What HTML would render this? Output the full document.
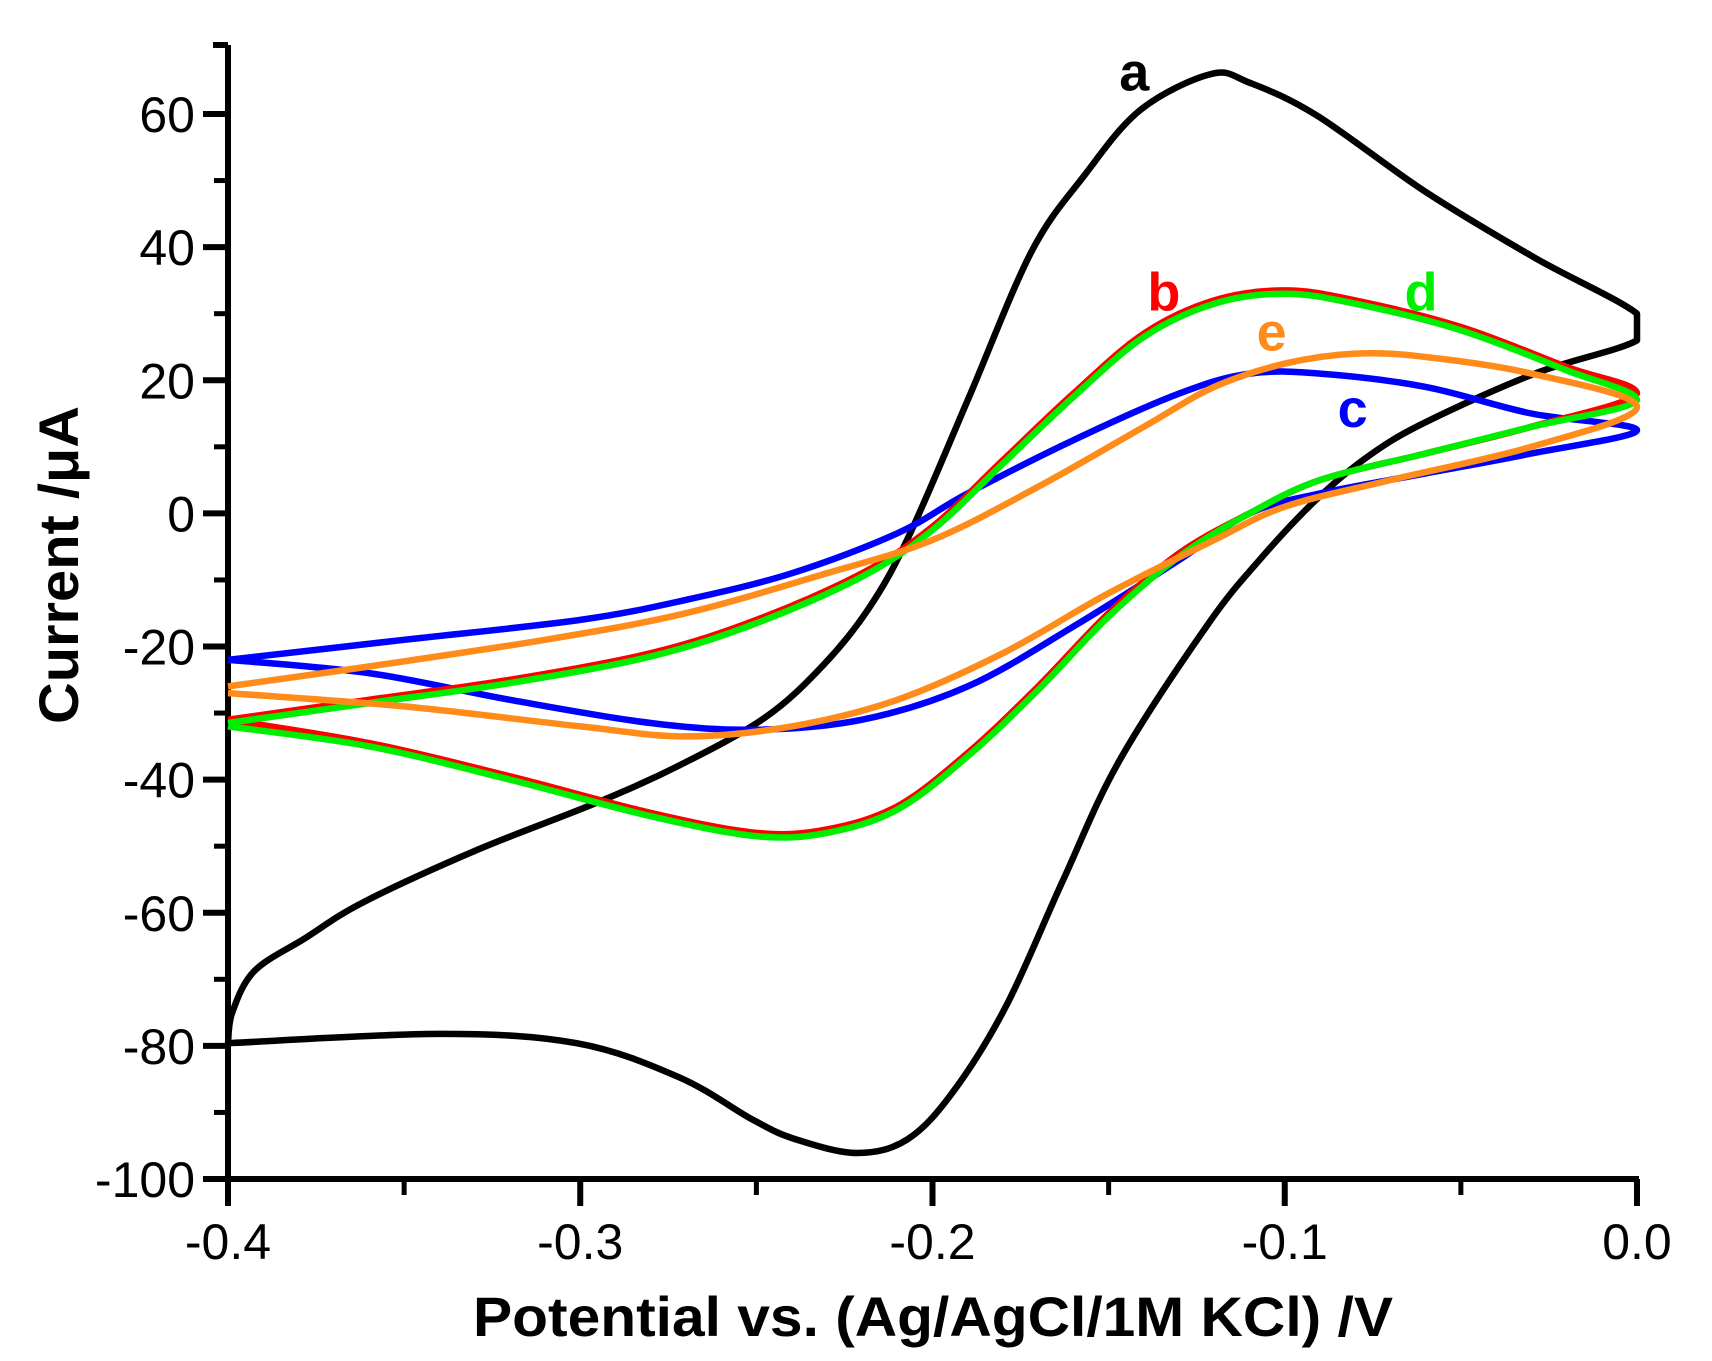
<!DOCTYPE html>
<html><head><meta charset="utf-8"><style>
html,body{margin:0;padding:0;background:#fff}
svg{display:block}
text{font-family:"Liberation Sans",Arial,sans-serif}
</style></head><body>
<svg id="chart" width="1712" height="1361" viewBox="0 0 1712 1361" xmlns="http://www.w3.org/2000/svg">
<g id="axes"></g>
<g id="series"></g>
<g id="labels"></g>
<text x="933" y="1336" font-size="56" font-weight="bold" text-anchor="middle" textLength="920" lengthAdjust="spacingAndGlyphs">Potential vs. (Ag/AgCl/1M KCl) /V</text>
<text transform="translate(78,565) rotate(-90)" font-size="56" font-weight="bold" text-anchor="middle" textLength="318" lengthAdjust="spacingAndGlyphs">Current /μA</text>
</svg>
<script>
const xTicks=[-0.4,-0.3,-0.2,-0.1,0.0];
const xTickLabels=["-0.4","-0.3","-0.2","-0.1","0.0"];
const yTicks=[-100,-80,-60,-40,-20,0,20,40,60];
const yTickLabels=["-100","-80","-60","-40","-20","0","20","40","60"];
const seriesNames=["a","b","c","d","e"];
const seriesColors=["#000000","#ff0000","#0000ff","#00ee00","#ff8c1a"];
const aX=[-0.4,-0.34,-0.301,-0.272,-0.251,-0.239,-0.2214,-0.207,-0.194,-0.179,-0.163,-0.147,-0.122,-0.107,-0.091,-0.076,-0.06,-0.029,0.0,0.0,-0.029,-0.06,-0.091,-0.11,-0.121,-0.141,-0.157,-0.172,-0.19,-0.2067,-0.218,-0.231,-0.2476,-0.272,-0.2964,-0.329,-0.3615,-0.378,-0.3926,-0.399,-0.4];
const aY=[-79.6,-78.2,-79.6,-84.7,-91.1,-94,-96.1,-94,-86.8,-73.9,-55.2,-37.2,-16.8,-6.9,2.1,8.7,13.7,21,26,30,38.4,48.3,59.8,64.7,66,60.6,50.7,39.2,17,-3.4,-14.2,-22.8,-30.7,-37.9,-43.7,-50.5,-58.4,-63.8,-68.8,-75.3,-79.6];
const bX=[-0.4,-0.36,-0.32,-0.28,-0.25,-0.23,-0.21,-0.19,-0.17,-0.15,-0.13,-0.11,-0.09,-0.06,-0.03,0.0,-0.02,-0.05,-0.08,-0.1,-0.12,-0.14,-0.16,-0.18,-0.2,-0.22,-0.25,-0.28,-0.32,-0.36,-0.4];
const bY=[-31,-34.5,-39.5,-45,-48,-47.5,-44,-36,-26,-15,-6,0,5,9,13,18,22,28,32,33.5,32,27,18,8,-2,-9,-16,-21,-25,-28,-31];
const cX=[-0.4,-0.36,-0.32,-0.28,-0.25,-0.22,-0.19,-0.16,-0.13,-0.11,-0.09,-0.06,-0.03,0.0,-0.03,-0.06,-0.09,-0.11,-0.13,-0.16,-0.19,-0.21,-0.24,-0.27,-0.3,-0.35,-0.4];
const cY=[-22,-24,-28,-31.5,-32.5,-31,-26,-17,-7,0,3,6,9,12.5,15,19,21,21,18,11,3,-3,-9,-13,-16,-19,-22];
const dX=[-0.4,-0.36,-0.32,-0.28,-0.25,-0.23,-0.21,-0.19,-0.17,-0.15,-0.13,-0.11,-0.09,-0.06,-0.03,0.0,-0.02,-0.05,-0.08,-0.1,-0.12,-0.14,-0.16,-0.18,-0.2,-0.22,-0.25,-0.28,-0.32,-0.36,-0.4];
const dY=[-32,-35,-40,-45.5,-48.5,-48,-44.5,-36.5,-26.5,-15.5,-6.5,0,5,9,13,17,21.5,27.5,31.5,33,31.5,26.5,17.5,7.5,-2.5,-9.5,-16.5,-21.5,-25.5,-28.5,-31.5];
const eX=[-0.4,-0.35,-0.3,-0.27,-0.24,-0.21,-0.18,-0.15,-0.12,-0.1,-0.07,-0.03,0.0,-0.03,-0.06,-0.08,-0.1,-0.12,-0.14,-0.17,-0.2,-0.23,-0.27,-0.31,-0.36,-0.4];
const eY=[-27,-29,-32,-33.5,-32,-28,-21,-12,-4,1,5,10,16,21,23.5,24,22.5,19,13,4,-4,-9,-15,-19,-23,-26];
const labelX=[-0.147,-0.139,-0.085,-0.066,-0.108];
const labelY=[63.5,30.5,13,30.5,24.5];

const X0=228,X1=1637,Y0=114,Y1=1179;
function sx(v){return X0+(v+0.4)/0.4*(X1-X0);}
function sy(v){return Y0+(60-v)/160*(Y1-Y0);}
const NS="http://www.w3.org/2000/svg";
function mk(tag,attrs,parent){const e=document.createElementNS(NS,tag);for(const k in attrs)e.setAttribute(k,attrs[k]);parent.appendChild(e);return e;}
const axes=document.getElementById('axes');
let el=mk('line',{x1:X0,y1:45,x2:X0,y2:Y1,stroke:'#000','stroke-width':6},axes);


el=mk('line',{x1:X0-2,y1:Y1,x2:X1+2,y2:Y1,stroke:'#000','stroke-width':6},axes);


el=mk('line',{x1:X0-15,y1:45,x2:X0,y2:45,stroke:'#000','stroke-width':6},axes);


for(let v=-90;v<=50;v+=20){
 el=mk('line',{x1:X0-14,y1:sy(v),x2:X0,y2:sy(v),stroke:'#000','stroke-width':5},axes);
 
 
}
yTicks.forEach((v,i)=>{
 el=mk('line',{x1:X0-25,y1:sy(v),x2:X0,y2:sy(v),stroke:'#000','stroke-width':6},axes);
 
 
 const t=mk('text',{x:X0-33,y:sy(v)+18,'font-size':50,'text-anchor':'end'},axes);
 t.textContent=yTickLabels[i];
 
 
});
for(let v=-0.35;v<0;v+=0.1){
 el=mk('line',{x1:sx(v),y1:Y1,x2:sx(v),y2:Y1+16,stroke:'#000','stroke-width':5},axes);
 
 
}
xTicks.forEach((v,i)=>{
 el=mk('line',{x1:sx(v),y1:Y1,x2:sx(v),y2:Y1+27,stroke:'#000','stroke-width':6},axes);
 
 
 const t=mk('text',{x:sx(v),y:Y1+80,'font-size':50,'text-anchor':'middle'},axes);
 t.textContent=xTickLabels[i];
 
 
});
function cl(x){return Math.min(X1,Math.max(X0,x));}
function pathD(xs,ys){
 const p=xs.map((x,i)=>[sx(x),sy(ys[i])]);
 let d='M'+p[0][0].toFixed(1)+','+p[0][1].toFixed(1);
 for(let i=0;i<p.length-1;i++){
  const p0=p[Math.max(i-1,0)],p1=p[i],p2=p[i+1],p3=p[Math.min(i+2,p.length-1)];
  const c1=[cl(p1[0]+(p2[0]-p0[0])/6),p1[1]+(p2[1]-p0[1])/6];
  const c2=[cl(p2[0]-(p3[0]-p1[0])/6),p2[1]-(p3[1]-p1[1])/6];
  d+=' C'+c1[0].toFixed(1)+','+c1[1].toFixed(1)+' '+c2[0].toFixed(1)+','+c2[1].toFixed(1)+' '+p2[0].toFixed(1)+','+p2[1].toFixed(1);
 }
 return d;
}
const ser=document.getElementById('series');
const allX=[aX,bX,cX,dX,eX],allY=[aY,bY,cY,dY,eY];
const order=[0,2,1,3,4];
order.forEach(i=>{
 const p=mk('path',{d:pathD(allX[i],allY[i]),fill:'none',stroke:seriesColors[i],'stroke-width':6.5,'stroke-linejoin':'round'},ser);
 
 
});
const lab=document.getElementById('labels');
seriesNames.forEach((n,i)=>{
 const t=mk('text',{x:sx(labelX[i]),y:sy(labelY[i]),'font-size':54,'font-weight':'bold',fill:seriesColors[i]},lab);
 t.textContent=n;
 
 
});
</script>
</body></html>
